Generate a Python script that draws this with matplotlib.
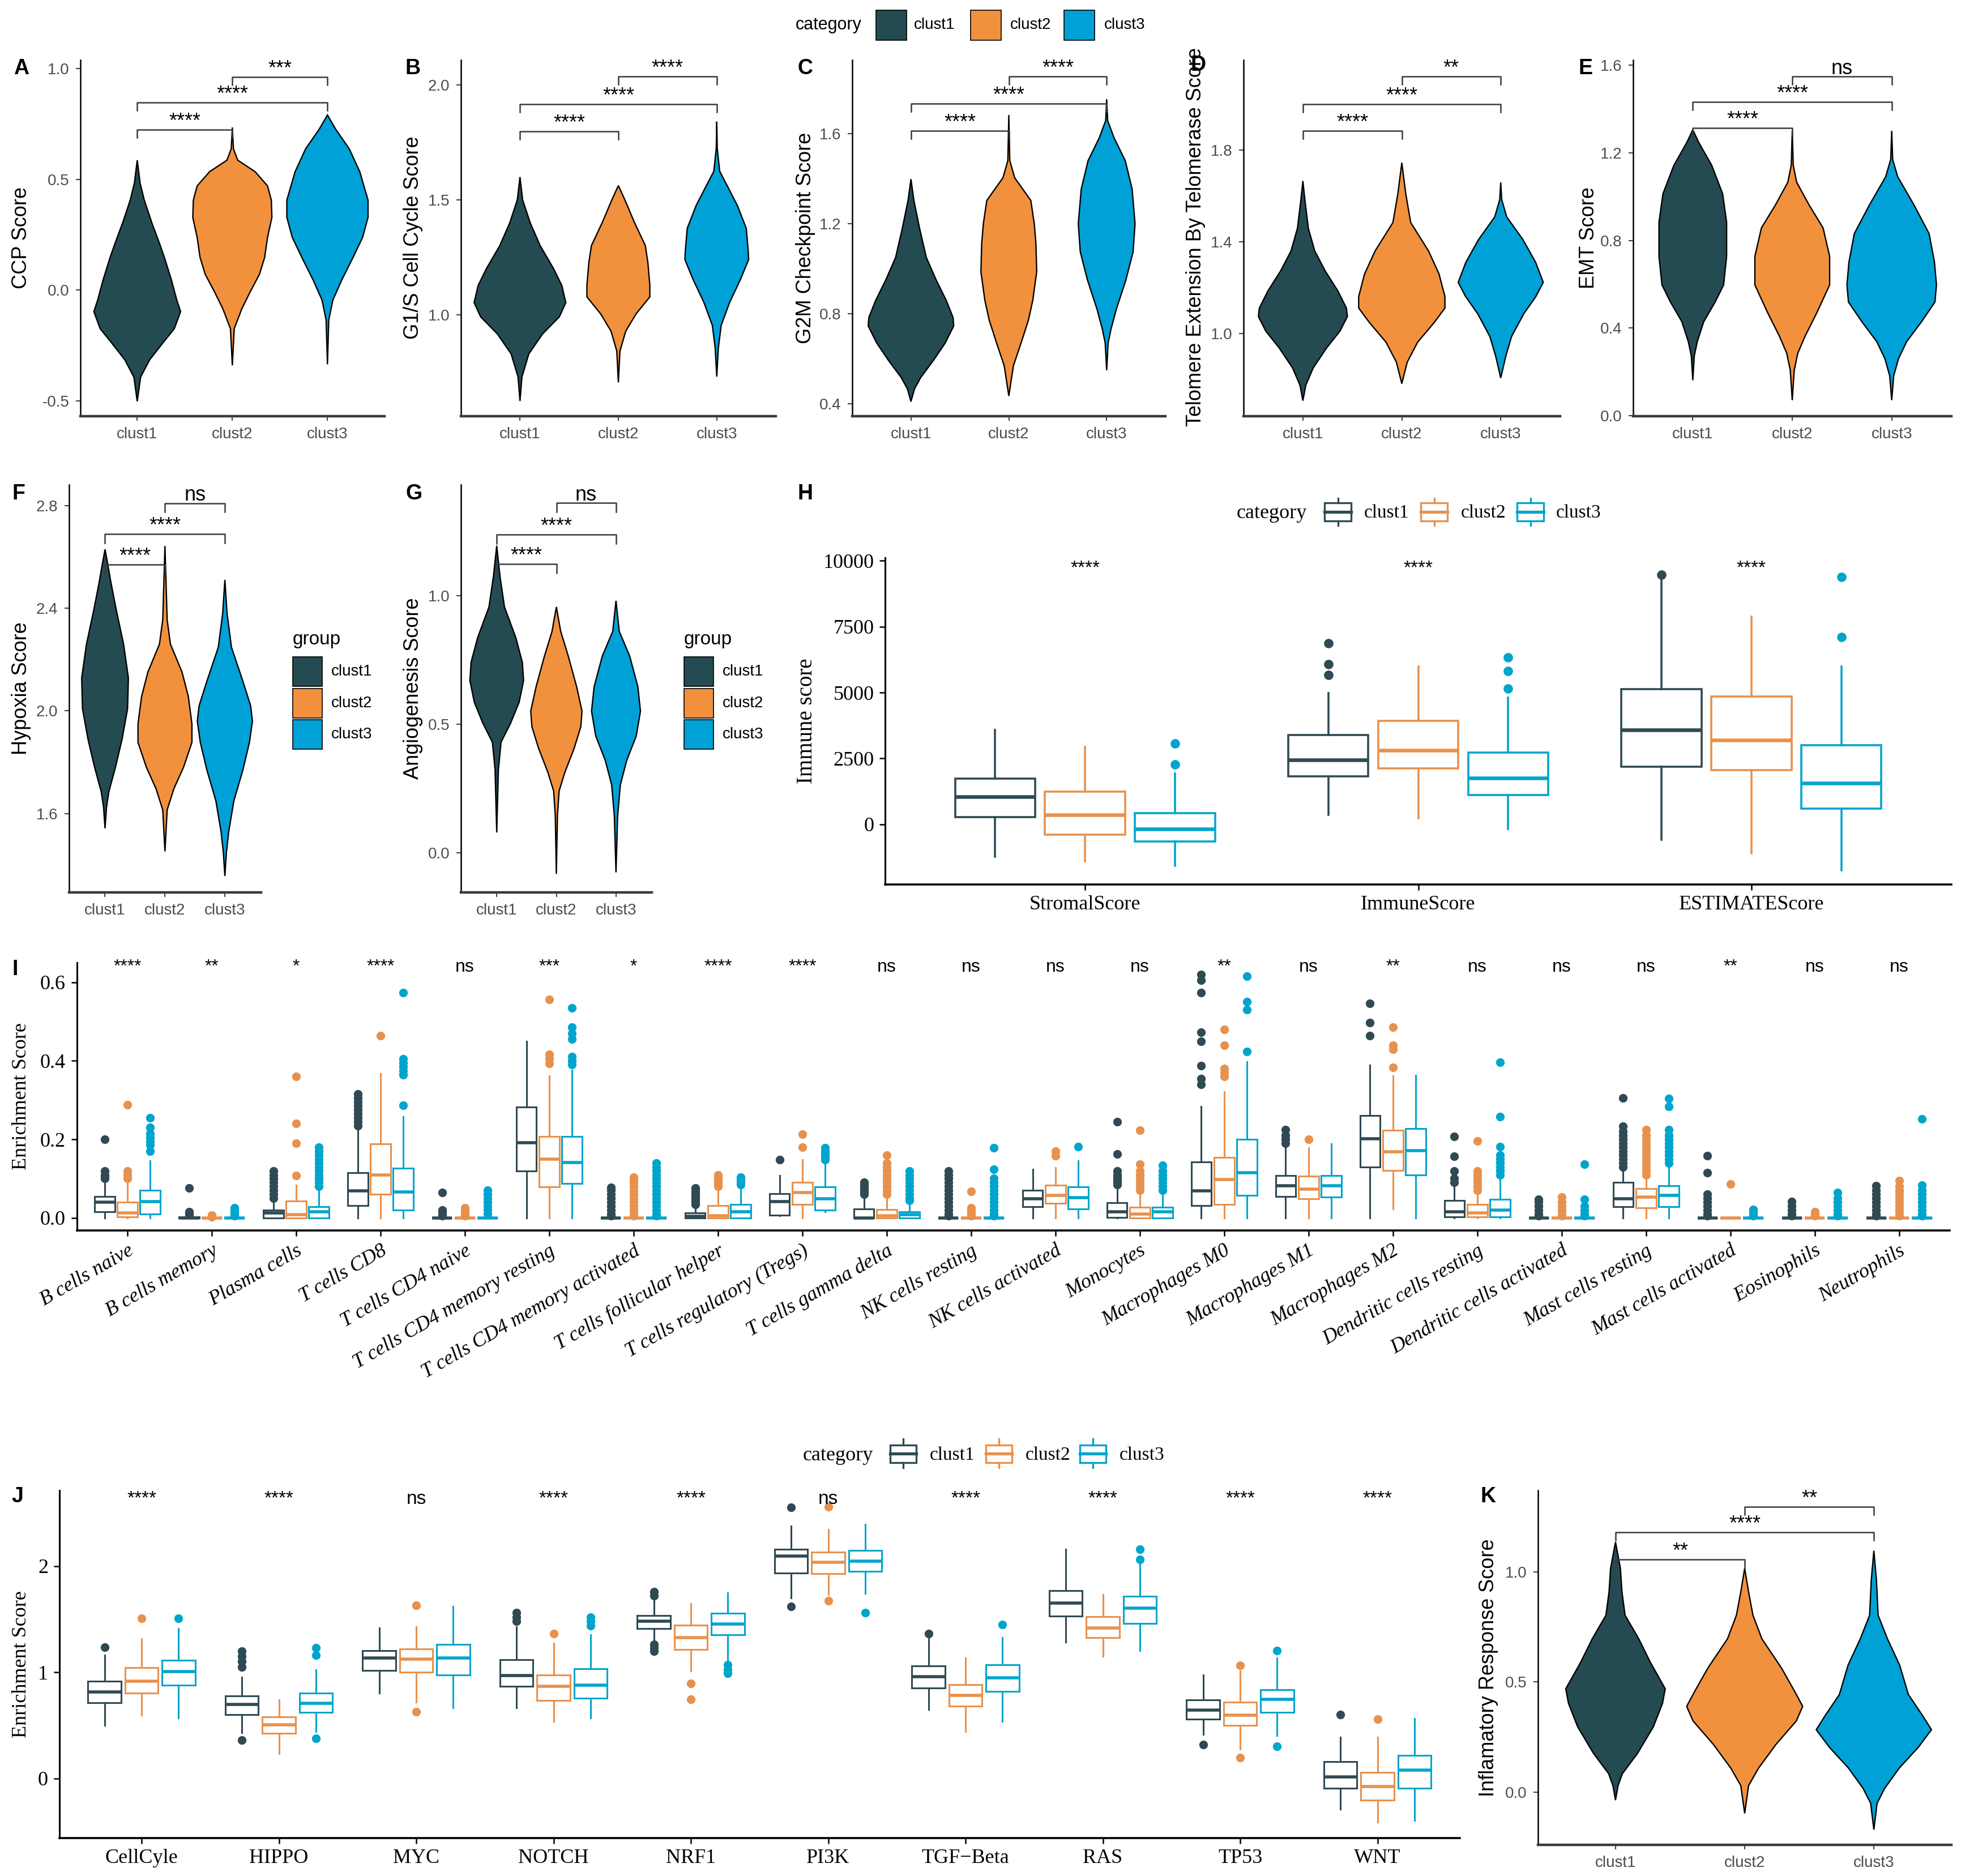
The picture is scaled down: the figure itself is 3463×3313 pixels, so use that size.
import numpy as np
import matplotlib.pyplot as plt
from matplotlib.patches import Rectangle

SANS = ['Liberation Sans', 'DejaVu Sans']
SERIF = ['Liberation Serif', 'DejaVu Serif']
plt.rcParams['font.family'] = SANS

W, H = 3463, 3313

clusters = ["clust1", "clust2", "clust3"]
fills = ["#254B52", "#F2913D", "#00A1D6"]
edges = ["#2F4A52", "#E8914C", "#00A5CD"]
pairs = [(1, 2), (1, 3), (2, 3)]

# ---------- violin outlines: y levels (top -> bottom), half widths
ccp_y = [[0.586, 0.483, 0.406, 0.303, 0.212, 0.148, 0.045, -0.045, -0.097, -0.174, -0.238, -0.315, -0.393, -0.502],
         [0.734, 0.637, 0.586, 0.534, 0.47, 0.406, 0.328, 0.238, 0.148, 0.071, -0.006, -0.084, -0.174, -0.34],
         [0.79, 0.727, 0.637, 0.534, 0.406, 0.328, 0.238, 0.148, 0.045, -0.045, -0.135, -0.335]]
ccp_w = [[0, 0.03, 0.074, 0.154, 0.233, 0.285, 0.36, 0.416, 0.456, 0.39, 0.27, 0.13, 0.035, 0],
         [0, 0.012, 0.057, 0.24, 0.37, 0.41, 0.416, 0.37, 0.34, 0.285, 0.19, 0.1, 0.02, 0],
         [0, 0.085, 0.23, 0.34, 0.427, 0.427, 0.37, 0.27, 0.15, 0.057, 0.014, 0]]
ccp_br = [0.724, 0.846, 0.962]
ccp_sig = ["****", "****", "***"]

g1s_y = [[1.599, 1.5, 1.4, 1.301, 1.202, 1.128, 1.053, 0.991, 0.917, 0.83, 0.73, 0.625],
         [1.562, 1.5, 1.4, 1.301, 1.227, 1.128, 1.078, 1.004, 0.929, 0.842, 0.706],
         [1.84, 1.723, 1.624, 1.55, 1.475, 1.376, 1.277, 1.24, 1.153, 1.053, 0.954, 0.855, 0.731]]
g1s_w = [[0, 0.027, 0.104, 0.205, 0.34, 0.425, 0.466, 0.4, 0.23, 0.09, 0.02, 0],
         [0, 0.066, 0.165, 0.274, 0.3, 0.32, 0.32, 0.18, 0.075, 0.016, 0],
         [0, 0.005, 0.03, 0.12, 0.21, 0.3, 0.32, 0.324, 0.24, 0.13, 0.045, 0.016, 0]]
g1s_br = [1.798, 1.916, 2.036]
g1s_sig = ["****", "****", "****"]

g2m_y = [[1.398, 1.303, 1.176, 1.05, 0.948, 0.86, 0.784, 0.746, 0.67, 0.593, 0.517, 0.467, 0.41],
         [1.683, 1.48, 1.404, 1.303, 1.2, 1.113, 0.986, 0.86, 0.771, 0.67, 0.569, 0.435],
         [1.753, 1.658, 1.582, 1.48, 1.354, 1.2, 1.075, 0.948, 0.822, 0.733, 0.67, 0.549]]
g2m_w = [[0, 0.03, 0.09, 0.157, 0.26, 0.36, 0.43, 0.437, 0.35, 0.23, 0.1, 0.037, 0],
         [0, 0.01, 0.06, 0.225, 0.26, 0.277, 0.285, 0.245, 0.2, 0.125, 0.047, 0],
         [0, 0.01, 0.075, 0.19, 0.26, 0.29, 0.27, 0.195, 0.1, 0.045, 0.015, 0]]
g2m_br = [1.613, 1.734, 1.854]
g2m_sig = ["****", "****", "****"]

tel_y = [[1.666, 1.585, 1.46, 1.361, 1.274, 1.187, 1.112, 1.075, 1.012, 0.938, 0.851, 0.776, 0.708],
         [1.746, 1.61, 1.485, 1.361, 1.261, 1.162, 1.112, 1.05, 0.963, 0.876, 0.782],
         [1.66, 1.585, 1.51, 1.41, 1.311, 1.224, 1.162, 1.087, 0.988, 0.9, 0.807]]
tel_w = [[0, 0.02, 0.055, 0.12, 0.225, 0.353, 0.44, 0.45, 0.376, 0.24, 0.105, 0.03, 0],
         [0, 0.04, 0.09, 0.27, 0.376, 0.436, 0.436, 0.33, 0.16, 0.055, 0],
         [0, 0.01, 0.06, 0.225, 0.353, 0.43, 0.355, 0.233, 0.11, 0.05, 0]]
tel_br = [1.886, 2.002, 2.122]
tel_sig = ["****", "****", "**"]

emt_y = [[1.305, 1.247, 1.143, 1.013, 0.883, 0.727, 0.597, 0.519, 0.429, 0.338, 0.273, 0.162],
         [1.3, 1.143, 1.065, 0.961, 0.857, 0.727, 0.597, 0.468, 0.364, 0.286, 0.208, 0.071],
         [1.3, 1.169, 1.091, 0.961, 0.831, 0.701, 0.597, 0.519, 0.429, 0.338, 0.26, 0.182, 0.071]]
emt_w = [[0, 0.06, 0.19, 0.3, 0.34, 0.34, 0.31, 0.225, 0.11, 0.045, 0.015, 0],
         [0, 0.01, 0.045, 0.17, 0.31, 0.376, 0.376, 0.245, 0.13, 0.056, 0.02, 0],
         [0, 0.01, 0.06, 0.225, 0.376, 0.43, 0.45, 0.435, 0.3, 0.15, 0.068, 0.02, 0]]
emt_br = [1.312, 1.431, 1.548]
emt_sig = ["****", "****", "ns"]

hyp_y = [[2.63, 2.571, 2.499, 2.391, 2.26, 2.128, 2.008, 1.889, 1.78, 1.685, 1.625, 1.542],
         [2.643, 2.355, 2.26, 2.152, 2.056, 1.949, 1.877, 1.78, 1.697, 1.614, 1.452],
         [2.511, 2.379, 2.248, 2.116, 2.02, 1.96, 1.877, 1.769, 1.649, 1.529, 1.446, 1.356]]
hyp_w = [[0, 0.046, 0.1, 0.19, 0.31, 0.39, 0.376, 0.284, 0.174, 0.064, 0.025, 0],
         [0, 0.037, 0.092, 0.284, 0.39, 0.45, 0.45, 0.31, 0.15, 0.037, 0],
         [0, 0.037, 0.11, 0.3, 0.43, 0.46, 0.41, 0.3, 0.15, 0.064, 0.025, 0]]
hyp_br = [2.571, 2.69, 2.81]
hyp_sig = ["****", "****", "ns"]

ang_y = [[1.194, 1.075, 0.956, 0.837, 0.741, 0.67, 0.586, 0.503, 0.431, 0.324, 0.08],
         [0.956, 0.861, 0.765, 0.646, 0.551, 0.491, 0.408, 0.312, 0.241, 0.145, -0.081],
         [0.98, 0.861, 0.765, 0.646, 0.551, 0.455, 0.36, 0.265, 0.145, -0.075]]
ang_w = [[0, 0.055, 0.13, 0.32, 0.43, 0.45, 0.376, 0.23, 0.073, 0.028, 0],
         [0, 0.073, 0.2, 0.34, 0.43, 0.41, 0.3, 0.14, 0.046, 0.018, 0],
         [0, 0.055, 0.23, 0.367, 0.41, 0.34, 0.18, 0.073, 0.028, 0]]
ang_br = [1.123, 1.238, 1.361]
ang_sig = ["****", "****", "ns"]

inf_y = [[1.136, 1.016, 0.909, 0.803, 0.696, 0.589, 0.469, 0.403, 0.296, 0.176, 0.083, 0.029, -0.037],
         [1.016, 0.909, 0.803, 0.696, 0.563, 0.456, 0.389, 0.323, 0.216, 0.109, 0.029, -0.097],
         [1.096, 0.963, 0.803, 0.696, 0.576, 0.443, 0.349, 0.283, 0.203, 0.109, 0.016, -0.051, -0.171]]
inf_w = [[0, 0.038, 0.05, 0.074, 0.18, 0.27, 0.385, 0.364, 0.293, 0.171, 0.053, 0.02, 0],
         [0, 0.03, 0.064, 0.133, 0.285, 0.388, 0.449, 0.4, 0.242, 0.108, 0.03, 0],
         [0, 0.02, 0.033, 0.105, 0.2, 0.267, 0.375, 0.446, 0.344, 0.197, 0.083, 0.025, 0]]
inf_br = [1.056, 1.179, 1.296]
inf_sig = ["**", "****", "**"]

# ---------- H: ESTIMATE scores  [whisker low, Q1, median, Q3, whisker high]
est_names = ["StromalScore", "ImmuneScore", "ESTIMATEScore"]
est_c1 = [[-1244, 267, 1047, 1744, 3581], [349, 1814, 2442, 3384, 4977], [-581, 2186, 3581, 5128, 9395]]
est_c2 = [[-1395, -395, 360, 1233, 2942], [233, 2128, 2802, 3930, 6000], [-1105, 2047, 3198, 4860, 7884]]
est_c3 = [[-1570, -663, -174, 419, 1930], [-174, 1105, 1756, 2733, 4802], [-1744, 593, 1570, 3000, 6000]]
est_c1_out = [[], [5674, 6081, 6872], [9477]]
est_c2_out = [[], [], []]
est_c3_out = [[2267, 3058], [5151, 5814, 6337], [7105, 9395]]
est_sig = ["****", "****", "****"]

# ---------- I: immune cell fractions
cells = ["B cells naive", "B cells memory", "Plasma cells", "T cells CD8", "T cells CD4 naive",
         "T cells CD4 memory resting", "T cells CD4 memory activated", "T cells follicular helper",
         "T cells regulatory (Tregs)", "T cells gamma delta", "NK cells resting", "NK cells activated",
         "Monocytes", "Macrophages M0", "Macrophages M1", "Macrophages M2", "Dendritic cells resting",
         "Dendritic cells activated", "Mast cells resting", "Mast cells activated", "Eosinophils", "Neutrophils"]
cell_c1 = [[0, 0.016, 0.040, 0.054, 0.09], [0, 0, 0, 0.002, 0.005], [0, 0, 0.012, 0.02, 0.045],
           [0, 0.031, 0.069, 0.115, 0.225], [0, 0, 0, 0, 0], [0, 0.12, 0.192, 0.283, 0.449],
           [0, 0, 0, 0, 0], [0, 0, 0.004, 0.012, 0.03], [0.005, 0.007, 0.042, 0.062, 0.108],
           [0, 0, 0, 0.023, 0.055], [0, 0, 0, 0, 0], [0, 0.029, 0.049, 0.071, 0.123],
           [0, 0.0015, 0.016, 0.038, 0.08], [0, 0.031, 0.069, 0.142, 0.284], [0, 0.054, 0.082, 0.108, 0.178],
           [0, 0.13, 0.202, 0.26, 0.389], [0, 0.003, 0.016, 0.044, 0.08], [0, 0, 0, 0, 0],
           [0, 0.029, 0.049, 0.091, 0.12], [0, 0, 0, 0, 0], [0, 0, 0, 0, 0], [0, 0, 0, 0, 0]]
cell_c2 = [[0, 0.002, 0.012, 0.040, 0.095], [0, 0, 0, 0, 0], [0, 0, 0.009, 0.043, 0.084],
           [0, 0.06, 0.11, 0.189, 0.367], [0, 0, 0, 0, 0], [0, 0.079, 0.15, 0.208, 0.361],
           [0, 0, 0, 0, 0], [0, 0, 0.005, 0.032, 0.075], [0, 0.034, 0.064, 0.091, 0.148],
           [0, 0, 0.005, 0.022, 0.055], [0, 0, 0, 0, 0], [0, 0.037, 0.057, 0.084, 0.128],
           [0, 0, 0.01, 0.027, 0.06], [0, 0.034, 0.098, 0.154, 0.321], [0, 0.049, 0.073, 0.106, 0.178],
           [0.023, 0.121, 0.168, 0.223, 0.361], [0, 0.003, 0.012, 0.034, 0.06], [0, 0, 0, 0, 0],
           [0, 0.025, 0.053, 0.075, 0.1], [0, 0, 0, 0, 0], [0, 0, 0, 0, 0], [0, 0, 0, 0, 0]]
cell_c3 = [[0, 0.01, 0.042, 0.071, 0.145], [0, 0, 0, 0, 0], [0, 0, 0.015, 0.029, 0.07],
           [0, 0.02, 0.066, 0.126, 0.258], [0, 0, 0, 0, 0], [0, 0.088, 0.141, 0.207, 0.376],
           [0, 0, 0, 0, 0], [0, 0, 0.015, 0.034, 0.08], [0.015, 0.02, 0.049, 0.079, 0.14],
           [0, 0, 0.009, 0.016, 0.04], [0, 0, 0, 0, 0], [0, 0.023, 0.051, 0.079, 0.145],
           [0, 0, 0.016, 0.027, 0.06], [0, 0.057, 0.115, 0.2, 0.398], [0, 0.053, 0.082, 0.108, 0.189],
           [0, 0.11, 0.172, 0.228, 0.363], [0, 0.003, 0.02, 0.047, 0.1], [0, 0, 0, 0, 0],
           [0, 0.029, 0.057, 0.082, 0.13], [0, 0, 0, 0, 0], [0, 0, 0, 0, 0], [0, 0, 0, 0, 0]]
cell_c1_out = [[0.10, 0.105, 0.11, 0.12, 0.20], [0.008, 0.012, 0.016, 0.076],
               [0.05, 0.06, 0.07, 0.08, 0.09, 0.10, 0.11, 0.12],
               [0.235, 0.245, 0.255, 0.265, 0.275, 0.285, 0.295, 0.305, 0.315],
               [0.005, 0.01, 0.015, 0.02, 0.064], [],
               [0.005, 0.01, 0.02, 0.03, 0.04, 0.05, 0.06, 0.07, 0.078],
               [0.035, 0.04, 0.045, 0.05, 0.055, 0.06, 0.065, 0.07, 0.076], [0.148],
               [0.06, 0.065, 0.07, 0.075, 0.08, 0.085, 0.09],
               [0.005, 0.01, 0.02, 0.03, 0.04, 0.05, 0.06, 0.07, 0.08, 0.09, 0.1, 0.11, 0.12], [],
               [0.085, 0.09, 0.095, 0.1, 0.105, 0.11, 0.12, 0.163, 0.245],
               [0.34, 0.354, 0.387, 0.449, 0.473, 0.574, 0.605, 0.62], [0.19, 0.2, 0.21, 0.225],
               [0.464, 0.497, 0.546], [0.09, 0.1, 0.12, 0.157, 0.208],
               [0.005, 0.01, 0.02, 0.03, 0.04, 0.047],
               [0.13, 0.14, 0.15, 0.16, 0.17, 0.18, 0.19, 0.2, 0.21, 0.22, 0.233, 0.306],
               [0.005, 0.01, 0.02, 0.03, 0.04, 0.05, 0.06, 0.115, 0.159],
               [0.005, 0.01, 0.02, 0.03, 0.042],
               [0.005, 0.01, 0.02, 0.03, 0.04, 0.05, 0.06, 0.07, 0.082]]
cell_c2_out = [[0.10, 0.11, 0.12, 0.288], [0.003, 0.007], [0.108, 0.19, 0.24, 0.36], [0.464],
               [0.005, 0.01, 0.015, 0.02, 0.025], [0.394, 0.405, 0.416, 0.556],
               [0.005, 0.01, 0.02, 0.03, 0.04, 0.05, 0.06, 0.07, 0.08, 0.09, 0.1, 0.104],
               [0.08, 0.085, 0.09, 0.095, 0.1, 0.105, 0.11], [0.18, 0.213],
               [0.06, 0.07, 0.08, 0.09, 0.1, 0.11, 0.12, 0.13, 0.14, 0.16],
               [0.005, 0.01, 0.015, 0.02, 0.025, 0.068], [0.159, 0.17],
               [0.07, 0.08, 0.09, 0.1, 0.11, 0.12, 0.137, 0.223], [0.36, 0.37, 0.38, 0.44, 0.48], [0.2],
               [0.383, 0.43, 0.44, 0.486], [0.07, 0.08, 0.09, 0.1, 0.11, 0.12, 0.196],
               [0.005, 0.01, 0.02, 0.03, 0.04, 0.053],
               [0.11, 0.12, 0.13, 0.14, 0.15, 0.16, 0.17, 0.18, 0.19, 0.2, 0.21, 0.225], [0.086],
               [0.005, 0.01, 0.016], [0.005, 0.01, 0.02, 0.03, 0.04, 0.05, 0.06, 0.07, 0.08, 0.095]]
cell_c3_out = [[0.17, 0.185, 0.195, 0.205, 0.215, 0.23, 0.255], [0.005, 0.01, 0.015, 0.02, 0.025],
               [0.08, 0.09, 0.1, 0.11, 0.12, 0.13, 0.14, 0.15, 0.16, 0.17, 0.18],
               [0.286, 0.365, 0.375, 0.385, 0.395, 0.405, 0.574], [0.01, 0.02, 0.03, 0.04, 0.05, 0.06, 0.07],
               [0.39, 0.4, 0.41, 0.455, 0.47, 0.485, 0.535],
               [0.005, 0.01, 0.02, 0.03, 0.04, 0.05, 0.06, 0.07, 0.08, 0.09, 0.1, 0.11, 0.12, 0.13, 0.14],
               [0.085, 0.09, 0.095, 0.1, 0.104], [0.148, 0.155, 0.163, 0.17, 0.178],
               [0.045, 0.05, 0.06, 0.07, 0.08, 0.09, 0.1, 0.11, 0.12],
               [0.005, 0.01, 0.02, 0.03, 0.04, 0.05, 0.06, 0.07, 0.08, 0.09, 0.1, 0.123, 0.178], [0.181],
               [0.07, 0.08, 0.09, 0.1, 0.11, 0.12, 0.134], [0.424, 0.53, 0.55, 0.616], [], [],
               [0.11, 0.12, 0.13, 0.14, 0.15, 0.16, 0.181, 0.258, 0.396],
               [0.005, 0.01, 0.02, 0.03, 0.047, 0.137],
               [0.14, 0.15, 0.16, 0.17, 0.18, 0.19, 0.2, 0.21, 0.225, 0.284, 0.304],
               [0.005, 0.01, 0.015, 0.022], [0.005, 0.01, 0.02, 0.03, 0.04, 0.05, 0.064],
               [0.005, 0.01, 0.02, 0.03, 0.04, 0.05, 0.06, 0.07, 0.084, 0.252]]
cell_sig = ["****", "**", "*", "****", "ns", "***", "*", "****", "****", "ns", "ns",
            "ns", "ns", "**", "ns", "**", "ns", "ns", "ns", "**", "ns", "ns"]

# ---------- J: pathway enrichment
paths = ["CellCyle", "HIPPO", "MYC", "NOTCH", "NRF1", "PI3K", "TGF\u2212Beta", "RAS", "TP53", "WNT"]
path_c1 = [[0.498, 0.711, 0.816, 0.913, 1.162], [0.429, 0.603, 0.697, 0.775, 0.954],
           [0.802, 1.018, 1.134, 1.203, 1.419], [0.664, 0.866, 0.968, 1.12, 1.425],
           [1.272, 1.411, 1.48, 1.535, 1.687], [1.701, 1.936, 2.094, 2.158, 2.379],
           [0.65, 0.852, 0.96, 1.057, 1.314], [1.286, 1.527, 1.651, 1.77, 2.158],
           [0.415, 0.559, 0.642, 0.739, 0.976], [-0.29, -0.091, 0.014, 0.158, 0.387]]
path_c2 = [[0.595, 0.802, 0.918, 1.043, 1.314], [0.235, 0.423, 0.506, 0.581, 0.739],
           [0.719, 1.001, 1.126, 1.217, 1.425], [0.539, 0.733, 0.866, 0.976, 1.272],
           [1.01, 1.212, 1.328, 1.444, 1.646], [1.729, 1.931, 2.033, 2.13, 2.343],
           [0.443, 0.683, 0.78, 0.885, 1.134], [1.148, 1.328, 1.419, 1.521, 1.729],
           [0.277, 0.498, 0.595, 0.719, 1.01], [-0.415, -0.202, -0.075, 0.055, 0.387]]
path_c3 = [[0.567, 0.877, 1.004, 1.112, 1.411], [0.443, 0.622, 0.705, 0.802, 1.024],
           [0.664, 0.976, 1.134, 1.264, 1.618], [0.567, 0.755, 0.877, 1.032, 1.355],
           [1.12, 1.355, 1.452, 1.555, 1.748], [1.743, 1.95, 2.047, 2.149, 2.393],
           [0.539, 0.822, 0.946, 1.071, 1.328], [1.203, 1.458, 1.604, 1.715, 2.019],
           [0.401, 0.622, 0.747, 0.838, 1.134], [-0.396, -0.091, 0.077, 0.216, 0.562]]
path_c1_out = [[1.237], [0.36, 1.05, 1.1, 1.15, 1.2], [], [1.48, 1.52, 1.56], [1.2, 1.23, 1.26, 1.72, 1.757],
               [1.618, 2.553], [1.364], [], [0.318], [0.6]]
path_c2_out = [[1.508], [], [0.628, 1.632], [1.364], [0.747, 0.894], [1.674, 2.559], [], [],
               [0.194, 1.065], [0.559]]
path_c3_out = [[1.508], [0.379, 1.16, 1.23], [], [1.44, 1.48, 1.52], [0.99, 1.03, 1.07], [1.563],
               [1.447], [2.061, 2.158], [0.304, 1.203], []]
path_sig = ["****", "****", "ns", "****", "****", "ns", "****", "****", "****", "****"]

fig = plt.figure(figsize=(W / 100, H / 100), dpi=100)


def px_axes(l, t, r, b):
    return fig.add_axes([l / W, 1 - b / H, (r - l) / W, (b - t) / H])


def sig_text(ax, x, y, s, size=26):
    ax.annotate(s, (x, y), xytext=(0, 3), textcoords='offset points', ha='center', va='baseline',
                fontsize=size, family=SANS, annotation_clip=False, zorder=5)


def violin_panel(box, ys, ws, ylim, yticks, br, sig):
    ax = px_axes(*box)
    for i in range(3):
        y = np.array(ys[i])
        w = np.array(ws[i])
        ax.fill(np.r_[i + 1 - w, (i + 1 + w)[::-1]], np.r_[y, y[::-1]],
                facecolor=fills[i], edgecolor='black', lw=1.7, zorder=2)
    ax.set_xlim(0.4, 3.6)
    ax.set_ylim(*ylim)
    ax.set_xticks([1, 2, 3], clusters)
    ax.set_yticks(yticks, ['%.1f' % v for v in yticks])
    for s in ('top', 'right'):
        ax.spines[s].set_visible(False)
    ax.spines['left'].set(lw=1.8, color='black')
    ax.spines['bottom'].set(lw=3.2, color='#3a3a3a')
    ax.tick_params(length=6, width=1.5, color='#444444', labelsize=20, labelcolor='#4D4D4D', pad=8)
    tip = 0.022 * (ylim[1] - ylim[0])
    for (a, b), yb, s in zip(pairs, br, sig):
        ax.plot([a, a, b, b], [yb - tip, yb, yb, yb - tip], color='#3a3a3a', lw=1.8,
                clip_on=False, zorder=3)
        sig_text(ax, (a + b) / 2, yb, s)
    return ax


def box_panel(ax, data, outs, lw, ms):
    n = len(data[0])
    for k in range(3):
        stats = [dict(whislo=d[0], q1=d[1], med=d[2], q3=d[3], whishi=d[4], fliers=o)
                 for d, o in zip(data[k], outs[k])]
        c = edges[k]
        ax.bxp(stats, positions=np.arange(1, n + 1) + (k - 1) * 0.27, widths=0.24,
               showcaps=False, patch_artist=True, manage_ticks=False,
               boxprops=dict(facecolor='white', edgecolor=c, linewidth=lw),
               whiskerprops=dict(color=c, linewidth=lw),
               medianprops=dict(color=c, linewidth=lw * 1.8),
               flierprops=dict(marker='o', markerfacecolor=c, markeredgecolor=c,
                               markersize=ms, linestyle='none'))
    ax.set_xlim(0.4, n + 0.6)
    for s in ('top', 'right'):
        ax.spines[s].set_visible(False)
    ax.spines['left'].set(lw=2.2, color='black')
    ax.spines['bottom'].set(lw=2.6, color='black')
    ax.tick_params(length=7, width=1.8, color='black', labelsize=26, labelcolor='black', pad=7)


# ---------- row 1 violins
violin_panel((141.6, 106, 679, 735), ccp_y, ccp_w, (-0.569, 1.038), [-0.5, 0.0, 0.5, 1.0], ccp_br, ccp_sig)
violin_panel((814, 106, 1370, 735), g1s_y, g1s_w, (0.559, 2.108), [1.0, 1.5, 2.0], g1s_br, g1s_sig)
violin_panel((1505, 106, 2058, 735), g2m_y, g2m_w, (0.345, 1.927), [0.4, 0.8, 1.2, 1.6], g2m_br, g2m_sig)
violin_panel((2196, 106, 2755, 735), tel_y, tel_w, (0.64, 2.194), [1.0, 1.4, 1.8], tel_br, tel_sig)
violin_panel((2884, 106, 3446, 735), emt_y, emt_w, (-0.002, 1.623), [0.0, 0.4, 0.8, 1.2, 1.6], emt_br, emt_sig)

# ---------- row 2 violins
violin_panel((122, 856, 460.6, 1576), hyp_y, hyp_w, (1.292, 2.882), [1.6, 2.0, 2.4, 2.8], hyp_br, hyp_sig)
violin_panel((814, 856, 1151, 1576), ang_y, ang_w, (-0.153, 1.431), [0.0, 0.5, 1.0], ang_br, ang_sig)

# ---------- H
axh = px_axes(1563, 985, 3446, 1562)
box_panel(axh, [est_c1, est_c2, est_c3], [est_c1_out, est_c2_out, est_c3_out], 2.6, 11)
axh.set_ylim(-2287, 10118)
axh.set_xticks([1, 2, 3], est_names, family=SERIF)
axh.set_yticks([0, 2500, 5000, 7500, 10000], ['0', '2500', '5000', '7500', '10000'], family=SERIF)
for i, s in enumerate(est_sig):
    sig_text(axh, i + 1, 9450, s, 24)

# ---------- I
axi = px_axes(135.5, 1700, 3443, 2173)
box_panel(axi, [cell_c1, cell_c2, cell_c3], [cell_c1_out, cell_c2_out, cell_c3_out], 2.2, 10)
axi.set_ylim(-0.032, 0.65)
axi.set_xticks(np.arange(1, len(cells) + 1), cells, rotation=30, ha='right', va='top',
               rotation_mode='anchor', family=SERIF, fontstyle='italic')
axi.set_yticks([0, 0.2, 0.4, 0.6], ['0.0', '0.2', '0.4', '0.6'], family=SERIF)
for i, s in enumerate(cell_sig):
    sig_text(axi, i + 1, 0.621, s, 23)

# ---------- J
axj = px_axes(104.5, 2632, 2578, 3246)
box_panel(axj, [path_c1, path_c2, path_c3], [path_c1_out, path_c2_out, path_c3_out], 2.2, 10)
axj.set_ylim(-0.562, 2.713)
axj.set_xticks(np.arange(1, len(paths) + 1), paths, family=SERIF)
axj.set_yticks([0, 1, 2], ['0', '1', '2'], family=SERIF)
for i, s in enumerate(path_sig):
    sig_text(axj, i + 1, 2.565, s, 24)

# ---------- K
violin_panel((2716, 2632, 3446, 3258), inf_y, inf_w, (-0.24, 1.37), [0.0, 0.5, 1.0], inf_br, inf_sig)

# ---------- overlay: panel letters, axis titles, legends (pixel coordinates)
ov = fig.add_axes([0, 0, 1, 1])
ov.set_xlim(0, W)
ov.set_ylim(H, 0)
ov.axis('off')
ov.patch.set_alpha(0)

letters = [("A", 37.5, 121), ("B", 729, 121), ("C", 1422, 121), ("D", 2116, 115), ("E", 2800, 121),
           ("F", 33, 872), ("G", 731, 872), ("H", 1422, 872), ("I", 26.5, 1712), ("J", 31, 2643),
           ("K", 2628, 2643)]
for t, x, y in letters:
    ov.text(x, y, t, fontsize=27, fontweight='bold', ha='center', va='center')

ylabels = [("CCP Score", 37.5, 420, SANS, 26), ("G1/S Cell Cycle Score", 729, 420, SANS, 26),
           ("G2M Checkpoint Score", 1422, 420, SANS, 26),
           ("Telomere Extension By Telomerase Score", 2111, 418, SANS, 26),
           ("EMT Score", 2805, 420, SANS, 26), ("Hypoxia Score", 37.5, 1216, SANS, 26),
           ("Angiogenesis Score", 729, 1216, SANS, 26), ("Immune score", 1424, 1273, SERIF, 28),
           ("Enrichment Score", 37.5, 1936, SERIF, 26), ("Enrichment Score", 37.5, 2939, SERIF, 26),
           ("Inflamatory Response Score", 2628, 2945, SANS, 26)]
for t, x, y, fam, fs in ylabels:
    ov.text(x, y, t, rotation=90, ha='center', va='center', fontsize=fs, family=fam)

# top legend (filled keys)
ov.text(1405, 44, "category", fontsize=22, ha='left', va='center')
for x, xl, c, lab in zip([1547, 1714, 1879], [1614, 1784, 1950], fills, clusters):
    ov.add_patch(Rectangle((x, 18), 54, 53, facecolor=c, edgecolor='black', lw=1.2))
    ov.text(xl, 44, lab, fontsize=20, ha='left', va='center')

# group legends of F and G
for x0 in (517, 1208):
    ov.text(x0, 1129, "group", fontsize=24, ha='left', va='center')
    for (t, b), c, lab in zip([(1160, 1212), (1216, 1268), (1271, 1323)], fills, clusters):
        ov.add_patch(Rectangle((x0, t), 52, b - t, facecolor=c, edgecolor='black', lw=1.2))
        ov.text(x0 + 68, (t + b) / 2, lab, fontsize=20, ha='left', va='center')


def box_key(x, w, wt, bt, med, bb, wb, c, lw=2.4):
    ov.plot([x + w / 2] * 2, [wt, bt], color=c, lw=lw)
    ov.plot([x + w / 2] * 2, [bb, wb], color=c, lw=lw)
    ov.add_patch(Rectangle((x, bt), w, bb - bt, facecolor='white', edgecolor=c, lw=lw))
    ov.plot([x, x + w], [med, med], color=c, lw=lw * 1.6)


ov.text(2184, 906, "category", fontsize=26, family=SERIF, ha='left', va='center')
for x, xl, c, lab in zip([2339, 2509, 2679], [2409, 2580, 2748], edges, clusters):
    box_key(x, 47, 880, 888, 904, 920, 928, c)
    ov.text(xl, 906, lab, fontsize=24, family=SERIF, ha='left', va='center')

ov.text(1418, 2570, "category", fontsize=26, family=SERIF, ha='left', va='center')
for x, xl, c, lab in zip([1572, 1741, 1907], [1642, 1811, 1977], edges, clusters):
    box_key(x, 46, 2541, 2552, 2567, 2583, 2592, c)
    ov.text(xl, 2570, lab, fontsize=24, family=SERIF, ha='left', va='center')

fig.savefig("out.png", dpi=100, facecolor='white')
